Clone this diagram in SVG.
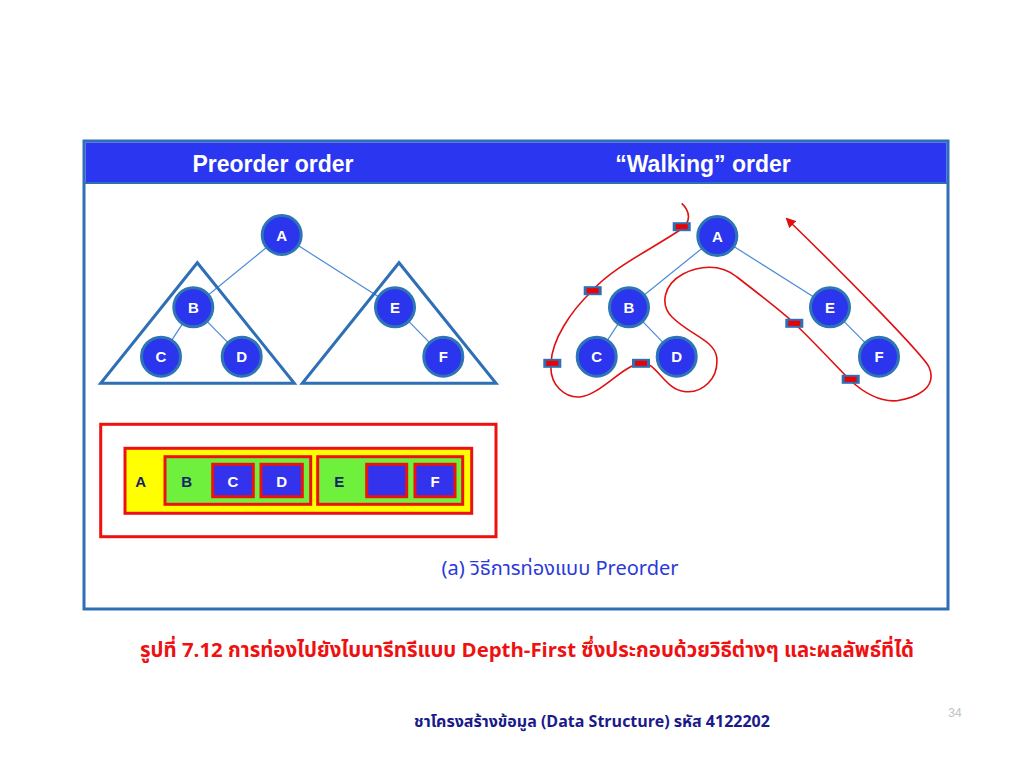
<svg xmlns="http://www.w3.org/2000/svg" width="1024" height="768" viewBox="0 0 1024 768">
<style>
.node circle{fill:#2b35ee;stroke:#2e75b6;stroke-width:3}
.node text,.lbl{font-family:"Liberation Sans",Arial,sans-serif;font-weight:bold;font-size:15px;fill:#fff;text-anchor:middle}
.edge{stroke:#4a8ad8;stroke-width:1.2;fill:none}
.tri{fill:none;stroke:#2e6fb5;stroke-width:3;stroke-linejoin:miter}
.head{font-family:"Liberation Sans",Arial,sans-serif;font-weight:bold;font-size:23px;fill:#fff;text-anchor:middle}
.thai{font-family:"Noto Sans Thai","Noto Sans","DejaVu Sans","Liberation Sans",sans-serif;text-anchor:middle}
.box{stroke:#ee1111;stroke-width:3}
.dark{fill:#14246a}
</style>
<defs>
<marker id="arr" markerWidth="10" markerHeight="10" refX="8" refY="5" orient="auto" markerUnits="userSpaceOnUse">
<path d="M0,0 L10,5 L0,10 Z" fill="#e01010"/>
</marker>
<g id="tick"><rect x="-9" y="-4.5" width="18" height="9" fill="#2e6fb5"/><rect x="-6" y="-2.5" width="12" height="5" fill="#ee0000"/></g>
</defs>
<rect width="1024" height="768" fill="#fff"/>
<g id="frame">
<rect x="84" y="141" width="864" height="468" fill="#fff" stroke="#2e6fb5" stroke-width="3"/>
<rect x="85.5" y="142.5" width="861" height="40" fill="#2a36f0"/>
<line x1="85" y1="183" x2="947" y2="183" stroke="#2e6fb5" stroke-width="2"/>
<text class="head" x="273" y="172">Preorder order</text>
<text class="head" x="703" y="172">“Walking” order</text>
</g>
<g id="connectors">
<line class="edge" x1="281.7" y1="235" x2="193.3" y2="307.3"/>
<line class="edge" x1="281.7" y1="235" x2="395" y2="307.3"/>
<line class="edge" x1="193.3" y1="307.3" x2="161" y2="356.7"/>
<line class="edge" x1="193.3" y1="307.3" x2="241.7" y2="356.7"/>
<line class="edge" x1="395" y1="307.3" x2="443.3" y2="356.7"/>
<line class="edge" x1="717.3" y1="236" x2="629" y2="307.3"/>
<line class="edge" x1="717.3" y1="236" x2="830" y2="307.3"/>
<line class="edge" x1="629" y1="307.3" x2="596.7" y2="356.7"/>
<line class="edge" x1="629" y1="307.3" x2="676.7" y2="356.7"/>
<line class="edge" x1="830" y1="307.3" x2="879" y2="356.7"/>
</g>
<g id="triangles">
<polygon class="tri" points="197.3,262.7 100.7,383.3 294.3,383.3"/>
<polygon class="tri" points="399,262.7 302.3,383.3 496,383.3"/>
</g>
<g id="L-A" class="node"><circle cx="281.7" cy="235" r="19.5"/><text x="281.7" y="240.5">A</text></g>
<g id="L-B" class="node"><circle cx="193.3" cy="307.3" r="19.5"/><text x="193.3" y="312.8">B</text></g>
<g id="L-C" class="node"><circle cx="161" cy="356.7" r="19.5"/><text x="161" y="362.2">C</text></g>
<g id="L-D" class="node"><circle cx="241.7" cy="356.7" r="19.5"/><text x="241.7" y="362.2">D</text></g>
<g id="L-E" class="node"><circle cx="395" cy="307.3" r="19.5"/><text x="395" y="312.8">E</text></g>
<g id="L-F" class="node"><circle cx="443.3" cy="356.7" r="19.5"/><text x="443.3" y="362.2">F</text></g>
<g id="R-A" class="node"><circle cx="717.3" cy="236" r="19.5"/><text x="717.3" y="241.5">A</text></g>
<g id="R-B" class="node"><circle cx="629" cy="307.3" r="19.5"/><text x="629" y="312.8">B</text></g>
<g id="R-C" class="node"><circle cx="596.7" cy="356.7" r="19.5"/><text x="596.7" y="362.2">C</text></g>
<g id="R-D" class="node"><circle cx="676.7" cy="356.7" r="19.5"/><text x="676.7" y="362.2">D</text></g>
<g id="R-E" class="node"><circle cx="830" cy="307.3" r="19.5"/><text x="830" y="312.8">E</text></g>
<g id="R-F" class="node"><circle cx="879" cy="356.7" r="19.5"/><text x="879" y="362.2">F</text></g>
<g id="walk">
<path d="M681.7,203.3 C690,211 692,222 680,230 C650,250 612,268 592,291 C570,312 552,340 551,363 C549,386 566,398 580,397 C600,395 622,366 641,363 C656,361 664,389 684,391.5 C703,394 719,378 716.7,357 C714,340 690,335 672,317 C660,305 663,285 683,274 C698,266 720,263 737,277 C760,295 780,310 794,323 C815,343 835,365 850,380 C865,394 880,402 897,400.7 C916,398 938,388 929,367 C923,355 850,280 787,219" fill="none" stroke="#e01010" stroke-width="1.6" marker-end="url(#arr)"/>
<use href="#tick" x="681.7" y="226.7"/>
<use href="#tick" x="592.7" y="290.7"/>
<use href="#tick" x="552.3" y="363.3"/>
<use href="#tick" x="641" y="363.3"/>
<use href="#tick" x="794.3" y="323.3"/>
<use href="#tick" x="850.7" y="379.3"/>
</g>
<g id="nested">
<rect class="box" x="100.7" y="424.3" width="395.3" height="112.4" fill="#fff"/>
<rect class="box" x="125" y="448.3" width="346.7" height="65" fill="#ffff00"/>
<rect class="box" x="165" y="456.7" width="145.7" height="47.6" fill="#6ef03c"/>
<rect class="box" x="212.7" y="464.3" width="40.6" height="32.4" fill="#3333ee"/>
<rect class="box" x="261" y="464.3" width="41.3" height="32.4" fill="#3333ee"/>
<rect class="box" x="317.7" y="456.7" width="145" height="47.6" fill="#6ef03c"/>
<rect class="box" x="366.7" y="464.3" width="40" height="32.4" fill="#3333ee"/>
<rect class="box" x="415" y="464.3" width="40" height="32.4" fill="#3333ee"/>
<text class="lbl dark" x="140.7" y="486.5">A</text>
<text class="lbl dark" x="186.7" y="486.5">B</text>
<text class="lbl" x="233" y="486.5">C</text>
<text class="lbl" x="281.7" y="486.5">D</text>
<text class="lbl dark" x="339.3" y="486.5">E</text>
<text class="lbl" x="435" y="486.5">F</text>
</g>
<text class="thai" x="560" y="575" font-size="20" fill="#2a3ad8">(a) วิธีการท่องแบบ Preorder</text>
<text class="thai" x="527" y="657" font-size="20.4" font-weight="bold" fill="#ee1111">รูปที่ 7.12 การท่องไปยังไบนารีทรีแบบ Depth-First ซึ่งประกอบด้วยวิธีต่างๆ และผลลัพธ์ที่ได้</text>
<text class="thai" x="592" y="727" font-size="16" font-weight="bold" fill="#1a1a8a">ชาโครงสร้างข้อมูล (Data Structure) รหัส 4122202</text>
<text x="955" y="717" font-family="Liberation Sans,Arial,sans-serif" font-size="12" fill="#c0c0c0" text-anchor="middle">34</text>
</svg>
